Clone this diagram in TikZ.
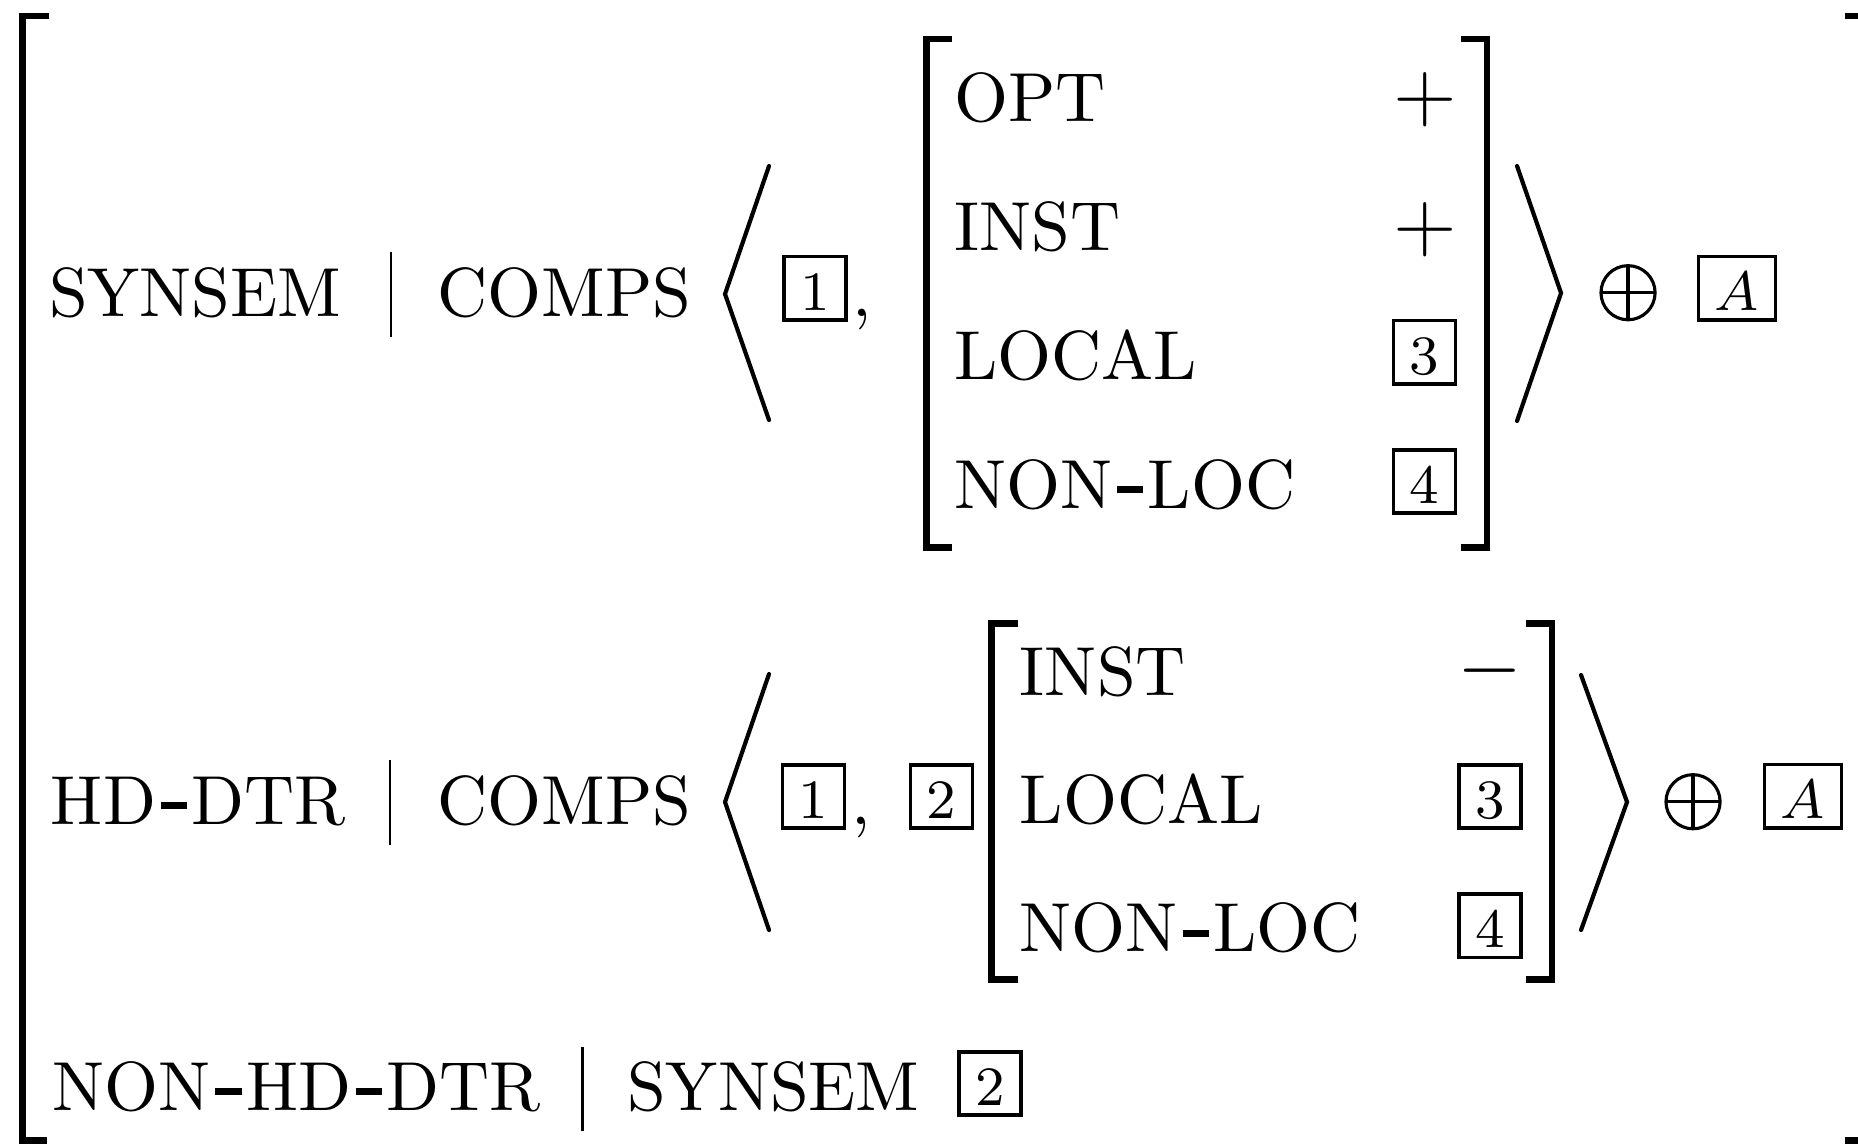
\documentclass[tikz,border=0pt]{standalone}
% heavy dash used inside feature names
\newcommand{\featdash}{\kern0.065em\rule[0.21em]{0.38em}{0.11em}\kern0.065em}
\begin{document}
\begin{tikzpicture}[x=0.1441pt,y=-0.1441pt,
  lbl/.style={anchor=base west,inner sep=0pt,font=\normalsize},
  tag/.style={draw,line width=0.5pt,inner xsep=2.35pt,inner ysep=0pt,
    minimum height=9.1pt,text height=6.4pt,text depth=0pt,font=\footnotesize},
  sgn/.style={inner sep=0pt,font=\large},
  brk/.style={line width=0.94pt,line join=miter,line cap=butt},
  ang/.style={line width=0.6pt,line cap=round,line join=miter},
  pathbar/.style={line width=0.4pt},
  opl/.style={circle,draw,line width=0.45pt,minimum size=7.8pt,inner sep=0pt,
    path picture={\draw[line width=0.45pt]
      (path picture bounding box.north) -- (path picture bounding box.south)
      (path picture bounding box.west) -- (path picture bounding box.east);}}]
\useasboundingbox (0,0) rectangle (1858,1144);
\clip (0,0) rectangle (1858,1144);

% outer brackets
\draw[brk] (49,16) -- (22.5,16) -- (22.5,1140.5) -- (47,1140.5);
\draw[brk] (1845,16) -- (1871,16) -- (1871,1140.5) -- (1845,1140.5);

% ---- first feature: SYNSEM | COMPS
\node[lbl] (synsem) at (47.8,316) {SYNSEM};
\coordinate (b1t) at (391,252);
\coordinate (b1b) at (391,337);
\draw[pathbar] (b1t) -- (b1b);
\node[lbl] (comps1) at (436,316) {COMPS};
\coordinate (la1t) at (769,166);
\coordinate (la1m) at (725,294);
\coordinate (la1b) at (769,420);
\draw[ang] (la1t) -- (la1m) -- (la1b);
\node[tag] (t1a) at (815,288.3) {1};
\node[lbl] (c1) at (851,316) {,};
% inner matrix
\draw[brk] (952,39) -- (926.3,39) -- (926.3,547.7) -- (952,547.7);
\draw[brk] (1461,39) -- (1487,39) -- (1487,547.7) -- (1461,547.7);
\node[lbl] (opt) at (953,121.7) {OPT};
\node[sgn] (optv) at (1425,100) {$+$};
\node[lbl] (inst1) at (953,250) {INST};
\node[sgn] (inst1v) at (1425,229.3) {$+$};
\node[lbl] (loc1) at (953,379.3) {LOCAL};
\node[tag] (t3a) at (1424.3,352.3) {3};
\node[lbl] (nl1) at (953,508) {NON\featdash LOC};
\node[tag] (t4a) at (1424.3,481.5) {4};
\coordinate (ra1t) at (1517,166);
\coordinate (ra1m) at (1561,293);
\coordinate (ra1b) at (1517,421);
\draw[ang] (ra1t) -- (ra1m) -- (ra1b);
\node[opl] (op1) at (1628,292.7) {};
\node[tag] (ta1) at (1737,288.3) {$A$};

% ---- second feature: HD-DTR | COMPS
\node[lbl] (hd) at (49.6,824) {HD\featdash DTR};
\coordinate (b2t) at (390,760);
\coordinate (b2b) at (390,845);
\draw[pathbar] (b2t) -- (b2b);
\node[lbl] (comps2) at (436,824) {COMPS};
\coordinate (la2t) at (769,674);
\coordinate (la2m) at (725,802);
\coordinate (la2b) at (769,930);
\draw[ang] (la2t) -- (la2m) -- (la2b);
\node[tag] (t1b) at (813.5,796.5) {1};
\node[lbl] (c2) at (850,824) {,};
\node[tag] (t2b) at (941.5,796.5) {2};
\draw[brk] (1018,623.3) -- (991.5,623.3) -- (991.5,979.7) -- (1018,979.7);
\draw[brk] (1526,623.3) -- (1552,623.3) -- (1552,979.7) -- (1526,979.7);
\node[lbl] (inst2) at (1018.5,695) {INST};
\node[sgn] (inst2v) at (1490,670.7) {$-$};
\node[lbl] (loc2) at (1018.5,823.3) {LOCAL};
\node[tag] (t3b) at (1489.8,796.5) {3};
\node[lbl] (nl2) at (1018.5,951.7) {NON\featdash LOC};
\node[tag] (t4b) at (1489.8,925.7) {4};
\coordinate (ra2t) at (1581,675);
\coordinate (ra2m) at (1627,802);
\coordinate (ra2b) at (1581,930);
\draw[ang] (ra2t) -- (ra2m) -- (ra2b);
\node[opl] (op2) at (1693,801.7) {};
\node[tag] (ta2) at (1803,796.2) {$A$};

% ---- third feature: NON-HD-DTR | SYNSEM
\node[lbl] (nhd) at (51.2,1110) {NON\featdash HD\featdash DTR};
\coordinate (b3t) at (582.5,1047);
\coordinate (b3b) at (582.5,1131);
\draw[pathbar] (b3t) -- (b3b);
\node[lbl] (synsem3) at (626,1110) {SYNSEM};
\node[tag] (t2c) at (990,1083.3) {2};
\end{tikzpicture}
\end{document}
